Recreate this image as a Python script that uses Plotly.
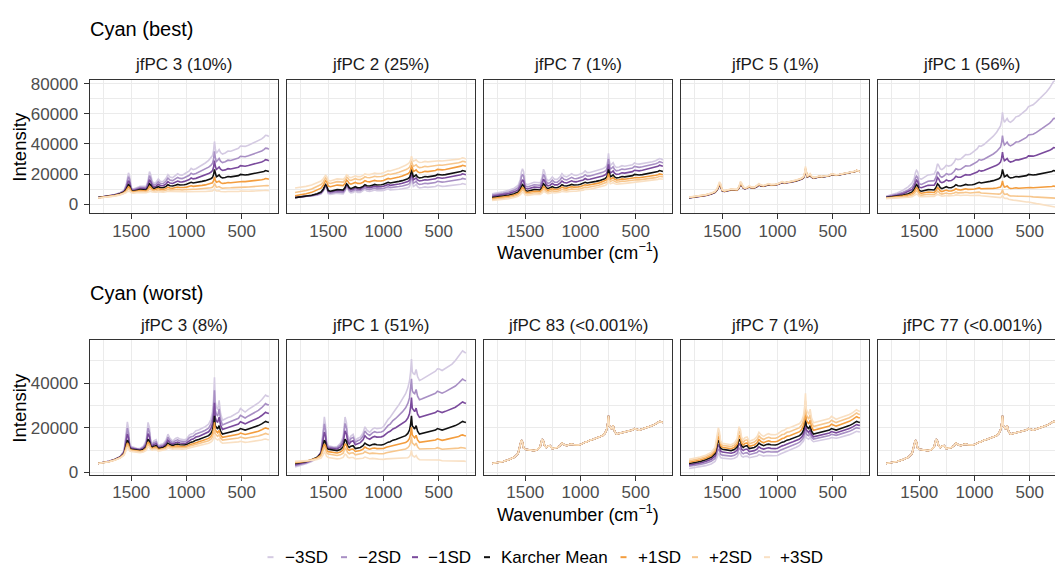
import numpy as np
import plotly.graph_objects as go

# ---------------- data ----------------
W = [1800, 1750, 1700, 1650, 1600, 1565, 1545, 1535, 1525, 1515, 1500, 1480, 1450, 1420, 1390,
     1365, 1348, 1335, 1325, 1310, 1295, 1275, 1255, 1235, 1210, 1185, 1168, 1150, 1125, 1100,
     1080, 1060, 1040, 1020, 1000, 975, 958, 940, 915, 890, 860, 830, 800, 780, 765,
     755, 747, 740, 730, 718, 705, 692, 675, 650, 625, 600, 575, 550, 530, 512,
     495, 470, 440, 410, 380, 350, 320, 300, 285, 270, 255]

# Karcher mean, Cyan (best)
M1 = [4300, 4700, 5200, 5900, 6900, 8000, 9800, 12000, 13000, 12300, 9000, 8600, 9200, 9600, 9500,
      9400, 11000, 13500, 12800, 10900, 10300, 10700, 11600, 10900, 10900, 11800, 12900, 12200, 12000, 12600,
      13100, 12700, 12600, 12900, 13200, 13700, 14500, 14000, 14200, 14600, 15100, 15600, 16300, 16900, 17700,
      19600, 23000, 20200, 18200, 18700, 19400, 18100, 17400, 17700, 18300, 18100, 18400, 18700, 18900, 19700,
      19400, 19300, 19600, 20000, 20200, 20700, 21200, 21700, 22300, 22100, 21700]
# smooth background under the best-group mean
B1 = [4300, 4700, 5200, 5900, 6900, 7800, 8300, 8500, 8600, 8700, 8700, 8600, 9100, 9400, 9400,
      9400, 9500, 9700, 9800, 10000, 10200, 10400, 10600, 10700, 10800, 11100, 11400, 11600, 11800, 12000,
      12200, 12300, 12400, 12600, 12800, 13100, 13400, 13600, 13900, 14300, 14800, 15300, 16000, 16500, 16900,
      17200, 17400, 17500, 17500, 17600, 17600, 17500, 17400, 17600, 18000, 18100, 18300, 18500, 18700, 18900,
      19100, 19200, 19500, 19900, 20100, 20600, 21100, 21500, 21800, 21900, 21700]
# Karcher mean, Cyan (worst)
M2 = [4000, 4400, 4950, 5700, 6800, 8500, 12000, 14500, 13500, 11000, 10400, 10200, 9900, 9800, 10300,
      11500, 14900, 14000, 12000, 11200, 11800, 12000, 10700, 11000, 11200, 12000, 13200, 12500, 12000, 12500,
      12700, 12400, 12300, 12300, 12500, 13300, 13600, 13800, 14500, 14800, 15300, 15800, 16500, 17500, 19000,
      21500, 25400, 21000, 20000, 19500, 21000, 18500, 17200, 17500, 17800, 18000, 18300, 18600, 19000, 19700,
      19500, 19000, 19500, 20000, 20300, 21000, 21800, 22600, 22900, 22600, 22400]
B2 = [4000, 4400, 4950, 5700, 6800, 8000, 9000, 9500, 9800, 10000, 10100, 10000, 9900, 9800, 10000,
      10400, 10700, 10900, 11000, 11100, 11200, 11200, 10900, 11000, 11200, 11500, 11800, 11900, 12000, 12100,
      12200, 12200, 12200, 12300, 12500, 12800, 13100, 13400, 13900, 14400, 15000, 15600, 16300, 16800, 17200,
      17500, 17700, 17800, 17800, 17700, 17500, 17300, 17200, 17400, 17700, 18000, 18300, 18600, 18900, 19100,
      19200, 19200, 19500, 20000, 20300, 21000, 21800, 22400, 22700, 22600, 22400]

# anchor wavenumbers for the per-line scaling
ANCH = [1800, 1500, 1000, 700, 255]

SERIES = ["\u22123SD", "\u22122SD", "\u22121SD", "Karcher Mean", "+1SD", "+2SD", "+3SD"]
COLORS = ["#d4cae2", "#a88fc4", "#7a4a9c", "#111111", "#f39d3e", "#f7c68c", "#f9e0c3"]

ROW_TITLES = ["Cyan (best)", "Cyan (worst)"]
PANELS_R1 = ["jfPC 3 (10%)", "jfPC 2 (25%)", "jfPC 7 (1%)", "jfPC 5 (1%)", "jfPC 1 (56%)"]
PANELS_R2 = ["jfPC 3 (8%)", "jfPC 1 (51%)", "jfPC 83 (<0.001%)", "jfPC 7 (1%)", "jfPC 77 (<0.001%)"]

X_TICKS = [1500, 1000, 500]
X_MINOR = [1750, 1250, 750, 250]
Y_TICKS_R1 = [0, 20000, 40000, 60000, 80000]
Y_MINOR_R1 = [10000, 30000, 50000, 70000]
Y_TICKS_R2 = [0, 20000, 40000]
Y_MINOR_R2 = [10000, 30000, 50000]

ONE = [1, 1, 1, 1, 1]
# background factors per line (-3SD .. +3SD) at ANCH, and peak gains (scalar or at ANCH), per panel
R1P1_BASE = [[1.00, 1.15, 1.55, 1.90, 2.07], [1.00, 1.10, 1.36, 1.58, 1.68], [1.00, 1.05, 1.17, 1.28, 1.33], ONE,
             [0.98, 0.95, 0.86, 0.79, 0.76], [0.96, 0.90, 0.74, 0.61, 0.56], [0.94, 0.86, 0.64, 0.47, 0.41]]
R1P1_PEAK = [[2.5, 2.5, 2.2, 1.6, 1.6], [2.0, 2.0, 1.8, 1.4, 1.4], [1.5, 1.5, 1.4, 1.2, 1.2], 1, 0.75, 0.5, 0.3]
R1P2_BASE = [[1.10, 0.75, 0.67, 0.62, 0.60], [1.05, 0.85, 0.78, 0.75, 0.76], [1.00, 0.95, 0.89, 0.88, 0.90], ONE,
             [1.30, 1.35, 1.20, 1.20, 1.16], [1.80, 1.60, 1.43, 1.40, 1.28], [2.50, 1.80, 1.60, 1.60, 1.38]]
R1P2_PEAK = [1.2, 1.1, 1.05, 1, 0.9, 0.8, 0.7]
R1P3_BASE = [[1.60, 1.50, 1.50, 1.40, 1.35], [1.40, 1.33, 1.33, 1.27, 1.26], [1.20, 1.17, 1.17, 1.13, 1.16], ONE,
             [0.85, 0.89, 0.89, 0.92, 0.90], [0.70, 0.78, 0.78, 0.84, 0.83], [0.55, 0.68, 0.68, 0.76, 0.76]]
R1P3_PEAK = [[2.4, 2.4, 2.0, 1.55, 1.55], [1.9, 1.9, 1.7, 1.35, 1.35], [1.4, 1.4, 1.3, 1.15, 1.15], 1, 0.8, 0.65, 0.5]
R1P4_BASE = [[0.94, 0.97, 0.98, 0.98, 1.00], [0.96, 0.98, 0.99, 0.99, 1.00], [0.98, 0.99, 0.995, 0.995, 1.00], ONE,
             [1.02, 1.01, 1.005, 1.005, 1.00], [1.05, 1.03, 1.01, 1.01, 1.00], [1.08, 1.05, 1.02, 1.02, 1.00]]
R1P4_PEAK = [0.9, 0.95, 0.97, 1, 1.05, 1.15, 1.3]
R1P5_BASE = [[1.20, 1.90, 2.71, 3.08, 3.75], [1.12, 1.50, 2.08, 2.20, 2.60], [1.06, 1.25, 1.57, 1.60, 1.70], ONE,
             [0.95, 0.85, 0.76, 0.60, 0.53], [0.90, 0.70, 0.58, 0.32, 0.18], [0.85, 0.57, 0.45, 0.18, -0.10]]
R1P5_PEAK = [1.5, 1.35, 1.2, 1, 0.8, 0.6, 0.35]

R2P1_BASE = [[1.00, 1.08, 1.20, 1.35, 1.52], [1.00, 1.05, 1.13, 1.23, 1.35], [1.00, 1.03, 1.06, 1.12, 1.18], ONE,
             [1.00, 0.97, 0.94, 0.92, 0.87], [1.00, 0.95, 0.90, 0.85, 0.76], [1.00, 0.92, 0.85, 0.77, 0.65]]
R2P1_PEAK = [2.5, 2.0, 1.5, 1, 0.8, 0.6, 0.45]
R2P2_BASE = [[0.62, 1.10, 1.64, 2.40, 2.39], [0.75, 1.07, 1.49, 1.90, 1.83], [0.88, 1.03, 1.31, 1.44, 1.38], ONE,
             [1.08, 0.90, 0.86, 0.79, 0.73], [1.16, 0.80, 0.67, 0.62, 0.48], [1.25, 0.65, 0.47, 0.34, 0.22]]
R2P2_PEAK = [[3.0, 3.0, 2.0, 1.25, 1.25], [2.4, 2.4, 1.7, 1.15, 1.15], [1.7, 1.7, 1.4, 1.05, 1.05], 1, 0.8, 0.65, 0.45]
R2P3_BASE = [ONE, ONE, ONE, ONE, ONE, ONE, ONE]
R2P3_PEAK = [1, 1, 1, 1, 1, 1, 1]
R2P4_BASE = [[0.45, 0.62, 0.61, 0.80, 0.81], [0.70, 0.75, 0.74, 0.87, 0.88], [0.85, 0.88, 0.87, 0.93, 0.94], ONE,
             [1.15, 1.08, 1.12, 1.10, 1.09], [1.30, 1.17, 1.25, 1.20, 1.16], [1.47, 1.25, 1.38, 1.30, 1.22]]
R2P4_PEAK = [0.55, 0.7, 0.85, 1, 1.2, 1.4, 1.6]
R2P5_BASE = [ONE, ONE, ONE, ONE, ONE, ONE, ONE]
R2P5_PEAK = [1, 1, 1, 1, 1, 1, 1]

# ---------------- figure ----------------
FW, FH = 1055, 572
w = np.array(W, float)
ANCH_ASC = np.array(ANCH[::-1], float)


def at_anchors(v):
    if isinstance(v, (list, tuple)):
        return np.interp(w, ANCH_ASC, np.array(v[::-1], float))
    return float(v)


def px_x(x):
    return x / FW


def px_y(y):
    return 1 - y / FH


rows = [
    dict(M=np.array(M1, float), B=np.array(B1, float), titles=PANELS_R1,
         base=[R1P1_BASE, R1P2_BASE, R1P3_BASE, R1P4_BASE, R1P5_BASE],
         peak=[R1P1_PEAK, R1P2_PEAK, R1P3_PEAK, R1P4_PEAK, R1P5_PEAK],
         top=76, bottom=212, yr=[-6000, 82200], yt=Y_TICKS_R1, ym=Y_MINOR_R1),
    dict(M=np.array(M2, float), B=np.array(B2, float), titles=PANELS_R2,
         base=[R2P1_BASE, R2P2_BASE, R2P3_BASE, R2P4_BASE, R2P5_BASE],
         peak=[R2P1_PEAK, R2P2_PEAK, R2P3_PEAK, R2P4_PEAK, R2P5_PEAK],
         top=342, bottom=480, yr=[-1180, 59300], yt=Y_TICKS_R2, ym=Y_MINOR_R2),
]

PANEL_L0 = 89.5
PITCH = 197.0
PANEL_W = 188.5
XR = [1877.5, 172.5]
UNITS_PER_PX = (XR[0] - XR[1]) / PANEL_W

fig = go.Figure()
layout = dict(
    width=FW, height=FH, margin=dict(l=0, r=0, t=0, b=0),
    paper_bgcolor="white", plot_bgcolor="white", showlegend=False,
    font=dict(family="Liberation Sans, Arial, sans-serif", color="#000000"),
)
annotations = []
shapes = []

FONT = "Liberation Sans, Arial, sans-serif"
GRID = "#ebebeb"
BORDER = "#333333"

for r, row in enumerate(rows):
    for c in range(5):
        k = r * 5 + c
        sfx = "" if k == 0 else str(k + 1)
        left = PANEL_L0 + PITCH * c
        right = left + PANEL_W
        if right > FW:
            xr = [XR[0], XR[0] - (FW - left) * UNITS_PER_PX]
            right = FW
        else:
            xr = XR
        base_f = row["base"][c]
        peak_g = row["peak"][c]
        for s in range(7):
            fb = at_anchors(base_f[s])
            g = at_anchors(peak_g[s])
            vals = row["B"] * fb + (row["M"] - row["B"]) * g
            fig.add_trace(go.Scatter(
                x=W, y=vals, mode="lines", name=SERIES[s],
                line=dict(color=COLORS[s], width=1.6),
                xaxis="x" + sfx, yaxis="y" + sfx, showlegend=False, hoverinfo="skip",
            ))
        layout["xaxis" + sfx] = dict(
            domain=[px_x(left), px_x(right)], range=xr, anchor="y" + sfx,
            showline=True, linecolor=BORDER, linewidth=1, mirror=True,
            ticks="outside", ticklen=5, tickwidth=1, tickcolor=BORDER,
            tickvals=X_TICKS, ticktext=[str(t) for t in X_TICKS],
            tickfont=dict(size=17, color="#4d4d4d", family=FONT), ticklabelstandoff=-3,
            showgrid=True, gridcolor=GRID, gridwidth=1.4, zeroline=False,
            minor=dict(tickvals=X_MINOR, showgrid=True, gridcolor=GRID, gridwidth=0.7, ticks=""),
        )
        ydict = dict(
            domain=[px_y(row["bottom"]), px_y(row["top"])], range=row["yr"], anchor="x" + sfx,
            showline=True, linecolor=BORDER, linewidth=1, mirror=(c < 4),
            tickvals=row["yt"], ticktext=[str(t) for t in row["yt"]],
            showgrid=True, gridcolor=GRID, gridwidth=1.4, zeroline=False,
            minor=dict(tickvals=row["ym"], showgrid=True, gridcolor=GRID, gridwidth=0.7, ticks=""),
        )
        if c == 0:
            ydict.update(ticks="outside", ticklen=5, tickwidth=1, tickcolor=BORDER,
                         tickfont=dict(size=17, color="#4d4d4d", family=FONT), ticklabelstandoff=2)
        else:
            ydict.update(ticks="", showticklabels=False)
        layout["yaxis" + sfx] = ydict
        # facet strip label
        strip_y = 60 if r == 0 else 326.5
        annotations.append(dict(
            text=row["titles"][c], x=px_x(left + PANEL_W / 2), y=px_y(strip_y),
            xref="paper", yref="paper", xanchor="center", yanchor="middle", showarrow=False,
            font=dict(size=17, color="#1a1a1a", family=FONT)))
    # row title
    title_y = 24 if r == 0 else 293.5
    annotations.append(dict(
        text=ROW_TITLES[r], x=px_x(88), y=px_y(title_y), xref="paper", yref="paper",
        xanchor="left", yanchor="middle", showarrow=False, font=dict(size=20, color="#000000", family=FONT)))
    # x axis title
    xt_y = 251.5 if r == 0 else 519
    annotations.append(dict(
        text="Wavenumber (cm<sup>\u22121</sup>)", x=px_x(577.5), y=px_y(xt_y), xref="paper", yref="paper",
        xanchor="center", yanchor="middle", showarrow=False, font=dict(size=18, color="#000000", family=FONT)))
    # y axis title
    annotations.append(dict(
        text="Intensity", x=px_x(20), y=px_y((row["top"] + row["bottom"]) / 2), xref="paper", yref="paper",
        xanchor="center", yanchor="middle", textangle=-90, showarrow=False,
        font=dict(size=18.5, color="#000000", family=FONT)))

# legend drawn at the bottom
LEG_KEY_X = [270.5, 344, 415, 487, 623.5, 695, 767]
LEG_TXT_X = [283, 355.5, 426, 498.5, 635.5, 706.5, 777.5]
LEG_Y = 564
for s in range(7):
    shapes.append(dict(type="line", xref="paper", yref="paper",
                       x0=px_x(LEG_KEY_X[s] - 3), x1=px_x(LEG_KEY_X[s] + 3),
                       y0=px_y(LEG_Y), y1=px_y(LEG_Y), line=dict(color=COLORS[s], width=2)))
    annotations.append(dict(text=SERIES[s], x=px_x(LEG_TXT_X[s]), y=px_y(LEG_Y), xref="paper", yref="paper",
                            xanchor="left", yanchor="middle", showarrow=False,
                            font=dict(size=17, color="#000000", family=FONT)))

layout["annotations"] = annotations
layout["shapes"] = shapes
fig.update_layout(**layout)
fig.write_html("out.html")
